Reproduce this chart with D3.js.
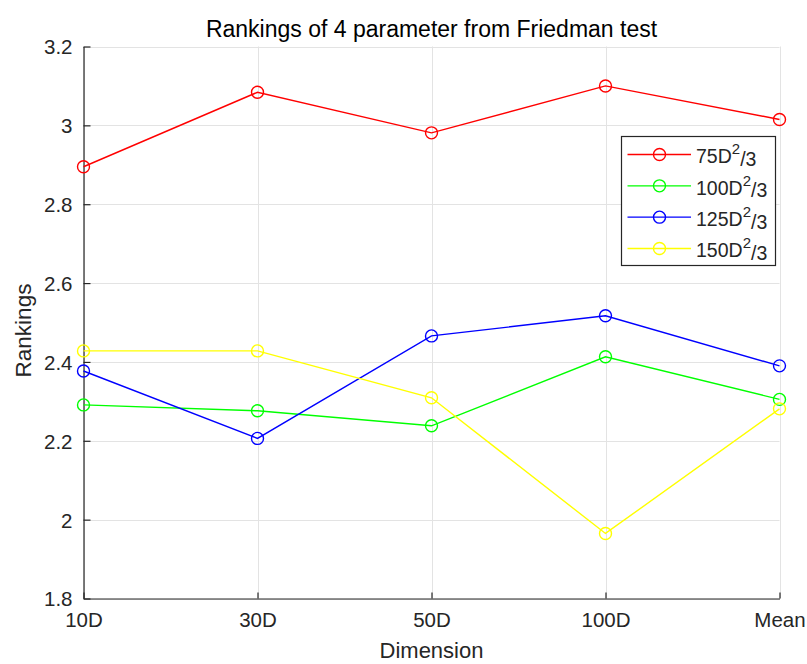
<!DOCTYPE html>
<html>
<head>
<meta charset="utf-8">
<script src="https://cdn.jsdelivr.net/npm/d3@7"></script>
<style>
  html, body { margin: 0; padding: 0; background: #fff; }
  svg { display: block; font-family: "Liberation Sans", Arial, Helvetica, sans-serif; }
</style>
</head>
<body>
<svg id="chart" width="807" height="664"></svg>
<script>
// Dimension groups along the x axis
const dimensions = ["10D", "30D", "50D", "100D", "Mean"];

// Mean Friedman ranking for each population-size setting
const rank75 = [2.895, 3.084, 2.981, 3.100, 3.015];
const rank100 = [2.291, 2.276, 2.238, 2.413, 2.305];
const rank125 = [2.377, 2.206, 2.466, 2.517, 2.390];
const rank150 = [2.428, 2.428, 2.309, 1.965, 2.281];

const seriesNames = ["75", "100", "125", "150"];
const seriesColors = ["#ff0000", "#00ff00", "#0000ff", "#ffff00"];
const yTicks = [1.8, 2, 2.2, 2.4, 2.6, 2.8, 3, 3.2];

const series = [rank75, rank100, rank125, rank150].map((values, i) => ({
  name: seriesNames[i],
  color: seriesColors[i],
  values
}));

const svg = d3.select("#chart");
const plot = { left: 83.5, right: 779.5, top: 46.5, bottom: 598.5 };
const textColor = "#262626";

const x = d3.scalePoint().domain(dimensions).range([plot.left, plot.right]);
const y = d3.scaleLinear().domain([1.8, 3.2]).range([plot.bottom, plot.top]);

// Grid
const grid = svg.append("g").attr("stroke", "#e3e3e3").attr("stroke-width", 1);
grid.selectAll("line.h").data(yTicks).join("line")
  .attr("class", "h")
  .attr("x1", plot.left).attr("x2", plot.right)
  .attr("y1", d => Math.round(y(d)) + 0.5).attr("y2", d => Math.round(y(d)) + 0.5);
grid.selectAll("line.v").data(dimensions).join("line")
  .attr("class", "v")
  .attr("y1", plot.top).attr("y2", plot.bottom)
  .attr("x1", d => Math.round(x(d)) + 0.5).attr("x2", d => Math.round(x(d)) + 0.5);

// Axes
const yAxis = d3.axisLeft(y).tickValues(yTicks).tickFormat(d3.format("~g"))
  .tickSizeInner(-7).tickSizeOuter(0).tickPadding(11);
const xAxis = d3.axisBottom(x).tickSizeInner(-6).tickSizeOuter(0).tickPadding(14);

const gy = svg.append("g").attr("transform", `translate(${plot.left},0)`).call(yAxis);
const gx = svg.append("g").attr("transform", `translate(0,${plot.bottom})`).call(xAxis);

[gx, gy].forEach(g => {
  g.select(".domain").attr("stroke", textColor).attr("stroke-width", 1.2);
  g.selectAll(".tick line").attr("stroke", textColor).attr("stroke-width", 1.2);
  g.selectAll(".tick text").attr("fill", textColor)
    .style("font-size", "20.5px")
    .style("font-family", "'Liberation Sans', Arial, sans-serif");
});
gy.selectAll(".tick text").attr("dy", "0.36em");
gx.selectAll(".tick text").attr("dy", "0.71em");

// Series lines and markers
const line = d3.line().x((d, i) => x(dimensions[i])).y(d => y(d));
const lines = svg.append("g");
series.forEach(s => {
  lines.append("path")
    .attr("d", line(s.values))
    .attr("fill", "none")
    .attr("stroke", s.color)
    .attr("stroke-width", 1.4);
  lines.selectAll(null).data(s.values).join("circle")
    .attr("cx", (d, i) => x(dimensions[i]))
    .attr("cy", d => y(d))
    .attr("r", 6)
    .attr("fill", "none")
    .attr("stroke", s.color)
    .attr("stroke-width", 1.4);
});

// Title and axis labels
svg.append("text")
  .attr("x", (plot.left + plot.right) / 2).attr("y", 37)
  .attr("text-anchor", "middle")
  .attr("fill", "#000")
  .style("font-size", "23px")
  .text("Rankings of 4 parameter from Friedman test");

svg.append("text")
  .attr("x", (plot.left + plot.right) / 2).attr("y", 658)
  .attr("text-anchor", "middle")
  .attr("fill", textColor)
  .style("font-size", "22px")
  .text("Dimension");

svg.append("text")
  .attr("transform", `translate(31,${(plot.top + plot.bottom) / 2 + 8}) rotate(-90)`)
  .attr("text-anchor", "middle")
  .attr("fill", textColor)
  .style("font-size", "22.5px")
  .text("Rankings");

// Legend
const legend = svg.append("g");
legend.append("rect")
  .attr("x", 621.5).attr("y", 136.5)
  .attr("width", 154).attr("height", 129)
  .attr("fill", "#fff")
  .attr("stroke", textColor)
  .attr("stroke-width", 1.2);

const rowY = d3.scaleLinear().domain([0, 3]).range([154.5, 248.5]);
const items = legend.selectAll("g.item").data(series).join("g")
  .attr("class", "item")
  .attr("transform", (d, i) => `translate(0,${rowY(i)})`);
items.append("line")
  .attr("x1", 627.5).attr("x2", 691)
  .attr("stroke", d => d.color).attr("stroke-width", 1.4);
items.append("circle")
  .attr("cx", 659.5).attr("r", 6)
  .attr("fill", "none")
  .attr("stroke", d => d.color).attr("stroke-width", 1.4);
const label = items.append("text")
  .attr("x", 696).attr("y", 0).attr("dy", "0.45em")
  .attr("fill", textColor)
  .style("font-size", "19.5px");
label.append("tspan").text(d => d.name + "D");
label.append("tspan").attr("dy", "-0.6em").style("font-size", "15px").text("2");
label.append("tspan").attr("dy", "0.6em").text("/3");
</script>
</body>
</html>
